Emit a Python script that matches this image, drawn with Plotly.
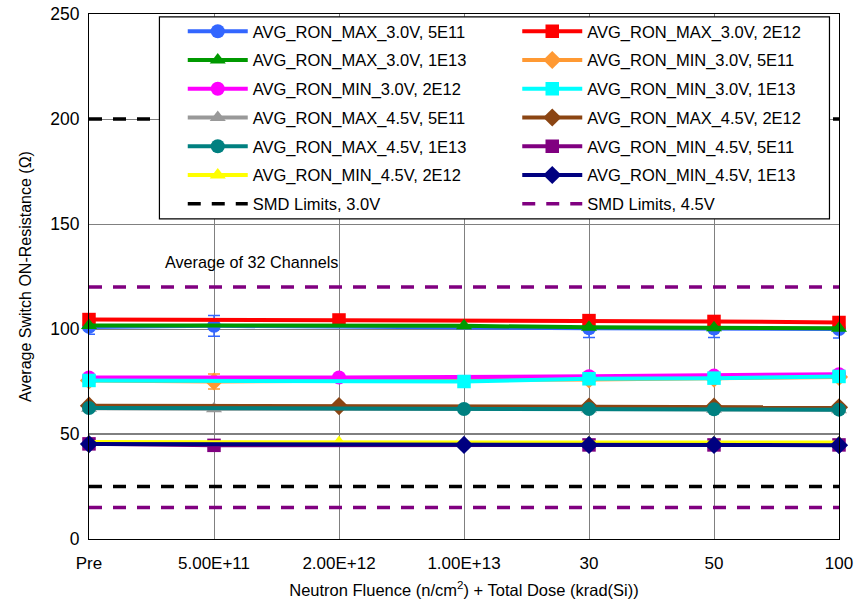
import plotly.graph_objects as go

categories = ["Pre", "5.00E+11", "2.00E+12", "1.00E+13", "30", "50", "100"]

# values per category position (None = not measured at that fluence)
max30_5e11 = [101.0, 101.5, None, None, 100.3, 100.2, 100.0]
max30_5e11_err = [3.5, 4.9, 0, 0, 4.3, 4.3, 4.3]
max30_2e12 = [104.5, None, 104.3, None, 104.0, 103.6, 103.1]
max30_1e13 = [101.7, None, None, 101.5, 100.8, 100.6, 100.4]
min30_5e11 = [75.5, 75.0, None, None, 76.0, 76.4, 77.2]
min30_5e11_err = [0, 3.6, 0, 0, 0, 0, 0]
min30_2e12 = [76.9, None, 76.9, None, 77.5, 77.8, 78.5]
min30_1e13 = [75.5, None, None, 75.0, 76.3, 76.6, 77.4]
max45_5e11 = [62.3, 62.0, None, None, 61.9, 61.8, 61.5]
max45_2e12 = [63.5, None, 63.3, None, 63.1, 63.0, 62.7]
max45_1e13 = [62.4, None, None, 61.9, 61.9, 61.8, 61.6]
min45_5e11 = [45.3, 44.6, None, None, 44.8, 44.8, 44.8]
min45_2e12 = [46.2, None, 45.9, None, 46.0, 45.9, 45.9]
min45_1e13 = [45.2, None, None, 44.8, 44.8, 44.8, 44.7]
smd30_limits = [200, 25]
smd45_limits = [120, 15]

series = [
    ("AVG_RON_MAX_3.0V, 5E11", max30_5e11, "#3366FF", "circle", max30_5e11_err),
    ("AVG_RON_MAX_3.0V, 2E12", max30_2e12, "#FF0000", "square", None),
    ("AVG_RON_MAX_3.0V, 1E13", max30_1e13, "#009900", "triangle-up", None),
    ("AVG_RON_MIN_3.0V, 5E11", min30_5e11, "#FF9933", "diamond", min30_5e11_err),
    ("AVG_RON_MIN_3.0V, 2E12", min30_2e12, "#FF00FF", "circle", None),
    ("AVG_RON_MIN_3.0V, 1E13", min30_1e13, "#00FFFF", "square", None),
    ("AVG_RON_MAX_4.5V, 5E11", max45_5e11, "#999999", "triangle-up", None),
    ("AVG_RON_MAX_4.5V, 2E12", max45_2e12, "#8B4513", "diamond", None),
    ("AVG_RON_MAX_4.5V, 1E13", max45_1e13, "#008080", "circle", None),
    ("AVG_RON_MIN_4.5V, 5E11", min45_5e11, "#800080", "square", None),
    ("AVG_RON_MIN_4.5V, 2E12", min45_2e12, "#FFFF00", "triangle-up", None),
    ("AVG_RON_MIN_4.5V, 1E13", min45_1e13, "#000080", "diamond", None),
]

xs = list(range(len(categories)))
fig = go.Figure()

for i, (name, vals, color, sym, err) in enumerate(series):
    legend = "legend" if i % 2 == 0 else "legend2"
    tr = dict(
        x=xs, y=vals, name=name, mode="lines+markers", connectgaps=True,
        line=dict(color=color, width=4),
        marker=dict(color=color, symbol=sym, size=14 if sym != "square" else 13.5),
        cliponaxis=False, legend=legend, legendgroup=name,
    )
    if err is not None:
        tr["error_y"] = dict(type="data", array=err, visible=True, color=color,
                             thickness=1.5, width=6)
    fig.add_trace(go.Scatter(**tr))

for j, (name, lims, color) in enumerate([("SMD Limits, 3.0V", smd30_limits, "#000000"),
                                         ("SMD Limits, 4.5V", smd45_limits, "#800080")]):
    lx, ly = [], []
    for k, v in enumerate(lims):
        if k:
            lx.append(None); ly.append(None)
        lx += [xs[0], xs[-1]]
        ly += [v, v]
    fig.add_trace(go.Scatter(
        x=lx, y=ly, name=name, mode="lines",
        line=dict(color=color, width=3.5, dash="13px,11px"),
        legend="legend" if j == 0 else "legend2", legendgroup=name,
    ))

legend_common = dict(
    bgcolor="rgba(0,0,0,0)", borderwidth=0, font=dict(family="Liberation Sans, Arial", size=16.5, color="#000"),
    itemwidth=60, tracegroupgap=4.3, xanchor="left", yanchor="top", itemsizing="trace",
)

fig.update_layout(
    width=856, height=603,
    margin=dict(l=89, r=16.5, t=13.7, b=63.5, autoexpand=False),
    plot_bgcolor="white", paper_bgcolor="white",
    font=dict(family="Liberation Sans, Arial", size=16, color="#000"),
    legend=dict(x=0.125, y=1.0, **legend_common),
    legend2=dict(x=0.571, y=1.0, **legend_common),
    xaxis=dict(
        range=[0, 6], tickvals=xs, ticktext=categories, showgrid=True, gridcolor="#808080",
        gridwidth=1.2, zeroline=False, showline=True, linecolor="#000", linewidth=1.2, mirror=True,
        ticks="", ticklabelstandoff=8, tickfont=dict(size=17),
        title=dict(text="Neutron Fluence (n/cm<sup>2</sup>) + Total Dose (krad(Si))",
                   font=dict(size=16.5), standoff=12),
    ),
    yaxis=dict(
        range=[0, 250], dtick=50, showgrid=True, gridcolor="#808080", gridwidth=1.2,
        zeroline=False, showline=True, linecolor="#000", linewidth=1.2, mirror=True,
        ticks="", ticklabelstandoff=5, tickfont=dict(size=17.5),
        title=dict(text="Average Switch ON-Resistance (Ω)", font=dict(size=16), standoff=14),
    ),
    shapes=[
        dict(type="line", xref="paper", yref="y", x0=0, x1=1, y0=50, y1=50,
             line=dict(color="#000", width=1.2), layer="below"),
        dict(type="rect", xref="paper", yref="paper", x0=0.0939, x1=0.9873, y0=0.6096, y1=0.9947,
             line=dict(color="#000", width=1.2), fillcolor="white", layer="above"),
    ],
    annotations=[
        dict(x=0.59, y=132, xref="x", yref="y", text="Average of 32 Channels", showarrow=False,
             xanchor="left", yanchor="middle", font=dict(size=16.2)),
    ],
)

fig.write_html("out.html")
